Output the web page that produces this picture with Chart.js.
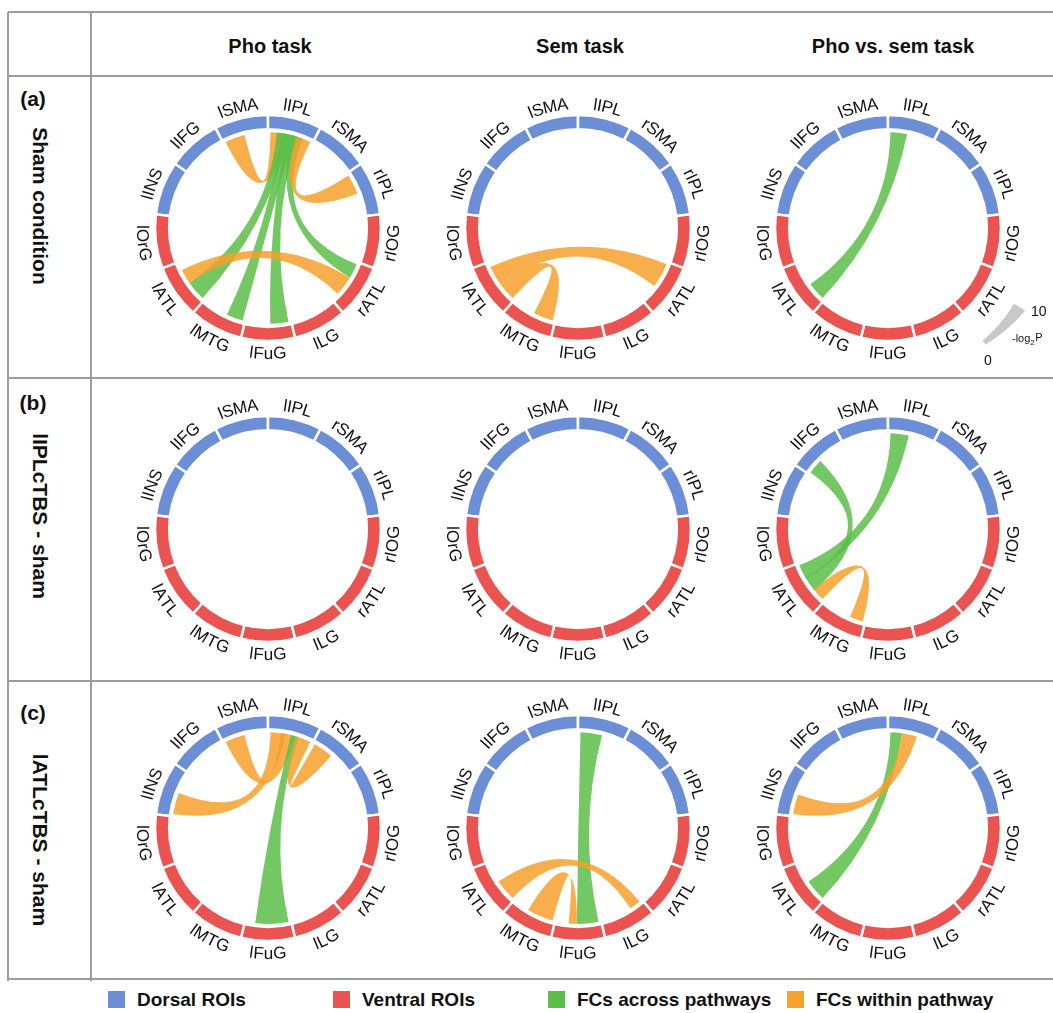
<!DOCTYPE html>
<html>
<head>
<meta charset="utf-8">
<script src="https://cdn.jsdelivr.net/npm/chart.js@4.4.1/dist/chart.umd.min.js"></script>
<style>
  body { margin: 0; background: #fff; }
  #page { position: relative; width: 1053px; height: 1013px; overflow: hidden;
          font-family: "Liberation Sans", Arial, sans-serif; color: #111; }
  .hl { position: absolute; left: 8px; width: 1045px; height: 2px; background: #9c9c9c; }
  .vl { position: absolute; top: 12px; width: 2px; height: 969px; background: #9c9c9c; }
  .head { position: absolute; top: 35px; font-weight: bold; font-size: 20px;
          transform: translateX(-50%); white-space: nowrap; }
  .tag { position: absolute; left: 33px; font-weight: bold; font-size: 21px;
         transform: translateX(-50%); }
  .rowlab { position: absolute; left: 40px; font-weight: bold; font-size: 21px; white-space: nowrap;
            transform: translate(-50%, -50%) rotate(90deg); }
  canvas { position: absolute; }
  .leg { position: absolute; top: 989px; font-weight: bold; font-size: 19px; white-space: nowrap; }
  .leg i { display: inline-block; width: 17px; height: 17px; vertical-align: -2px; margin-right: 12px; }
</style>
</head>
<body>
<div id="page"></div>
<script>
// ROIs going clockwise round each ring
const rois = ['lINS', 'lIFG', 'lSMA', 'lIPL', 'rSMA', 'rIPL', 'rIOG', 'rATL', 'lLG', 'lFuG', 'lMTG', 'lATL', 'lOrG'];
const dorsalRois = ['lINS', 'lIFG', 'lSMA', 'lIPL', 'rSMA', 'rIPL'];
const roiSize = rois.map(() => 1);

const conditions = ['Sham condition', 'lIPLcTBS - sham', 'lATLcTBS - sham'];
const conditionTags = ['(a)', '(b)', '(c)'];
const tasks = ['Pho task', 'Sem task', 'Pho vs. sem task'];
const legendItems = ['Dorsal ROIs', 'Ventral ROIs', 'FCs across pathways', 'FCs within pathway'];
const sizeKeyTicks = [0, 10];

// links: [roi A, roi B, -logP at A end, -logP at B end]
const shamPho = [
  ['lSMA', 'lIPL', 12, 9],
  ['lIPL', 'lATL', 7, 12],
  ['lIPL', 'lMTG', 7, 10],
  ['lIPL', 'lFuG', 7, 11],
  ['lIPL', 'rATL', 7, 9],
  ['lIPL', 'rIPL', 9, 12],
  ['lATL', 'rATL', 9, 12]
];
const shamSem = [
  ['lATL', 'lMTG', 11, 12],
  ['lATL', 'rATL', 12, 15]
];
const shamDiff = [
  ['lIPL', 'lATL', 10, 11]
];
const iplPho = [];
const iplSem = [];
const iplDiff = [
  ['lMTG', 'lATL', 8, 8],
  ['lIFG', 'lATL', 9, 9],
  ['lIPL', 'lATL', 11, 9]
];
const atlPho = [
  ['lINS', 'lIPL', 13, 9],
  ['lSMA', 'lIPL', 12, 9],
  ['lIPL', 'lFuG', 5, 20],
  ['lIPL', 'rSMA', 9, 12]
];
const atlSem = [
  ['lIPL', 'lFuG', 13, 13],
  ['lATL', 'lLG', 13, 7],
  ['lMTG', 'lFuG', 16, 5]
];
const atlDiff = [
  ['lIPL', 'lATL', 7, 13],
  ['lINS', 'lIPL', 12, 9]
];
const panels = [
  [shamPho, shamSem, shamDiff],
  [iplPho, iplSem, iplDiff],
  [atlPho, atlSem, atlDiff]
];

const BLUE = '#6c8ed6';
const RED = '#ea5350';
const GREEN = 'rgba(92, 190, 72, 0.85)';
const ORANGE = 'rgba(246, 160, 44, 0.85)';
const DEG = Math.PI / 180;
const UNIT = 1 * DEG;              // ribbon width per -logP unit
const colX = [268, 578, 888];
const rowY = [228, 529, 828];

const page = document.getElementById('page');
function add(cls, text, style) {
  const d = document.createElement('div');
  d.className = cls;
  if (text) d.textContent = text;
  Object.assign(d.style, style);
  page.appendChild(d);
  return d;
}

// table frame
[12, 76, 378, 681, 979].forEach(y => add('hl', '', { top: (y - 1) + 'px' }));
[8, 91].forEach(x => add('vl', '', { left: (x - 1) + 'px' }));
tasks.forEach((t, i) => add('head', t, { left: [270, 580, 893][i] + 'px' }));
conditionTags.forEach((t, i) => add('tag', t, { top: [87, 391, 701][i] + 'px' }));
conditions.forEach((t, i) => add('rowlab', t, { top: [206, 516, 840][i] + 'px' }));

// legend
const legColors = [BLUE, RED, '#5cbf48', '#f6a22f'];
legendItems.forEach((t, i) => {
  const d = add('leg', '', { left: [108, 333, 548, 787][i] + 'px' });
  const sw = document.createElement('i');
  sw.style.background = legColors[i];
  d.appendChild(sw);
  d.appendChild(document.createTextNode(t));
});

const isDorsal = r => dorsalRois.includes(r);

const chordPlugin = {
  id: 'chords',
  afterDatasetsDraw(chart, args, opts) {
    const links = opts.links || [];
    const arcs = chart.getDatasetMeta(0).data;
    if (!links.length || !arcs.length) return;
    const ctx = chart.ctx;
    const cx = arcs[0].x, cy = arcs[0].y;
    const r = arcs[0].innerRadius - 3;
    const pad = 1.5 * DEG;
    // collect link ends per ROI, in link order
    const ends = rois.map(() => []);
    links.forEach((l, k) => {
      ends[rois.indexOf(l[0])].push({ k, side: 0, w: l[2] * UNIT });
      ends[rois.indexOf(l[1])].push({ k, side: 1, w: l[3] * UNIT });
    });
    const pos = links.map(() => [null, null]);
    ends.forEach((list, i) => {
      if (!list.length) return;
      const a0 = arcs[i].startAngle + pad;
      const usable = arcs[i].endAngle - pad - a0;
      const total = list.reduce((s, e) => s + e.w, 0);
      const last = list[list.length - 1].w;
      const f = total <= usable ? 1 : (usable - last) / (total - last);
      let c = 0;
      list.forEach(e => {
        const s = a0 + c * f;
        pos[e.k][e.side] = [s, s + e.w];
        c += e.w;
      });
    });
    ctx.save();
    links.forEach((l, k) => {
      const [s0, s1] = pos[k][0];
      const [t0, t1] = pos[k][1];
      ctx.fillStyle = isDorsal(l[0]) !== isDorsal(l[1]) ? GREEN : ORANGE;
      ctx.beginPath();
      ctx.arc(cx, cy, r, s0, s1);
      ctx.quadraticCurveTo(cx, cy, cx + r * Math.cos(t0), cy + r * Math.sin(t0));
      ctx.arc(cx, cy, r, t0, t1);
      ctx.quadraticCurveTo(cx, cy, cx + r * Math.cos(s0), cy + r * Math.sin(s0));
      ctx.closePath();
      ctx.fill();
    });
    ctx.restore();
  }
};

// ROI names bent along the ring
const labelPlugin = {
  id: 'roiLabels',
  afterDatasetsDraw(chart) {
    const arcs = chart.getDatasetMeta(0).data;
    const ctx = chart.ctx;
    ctx.save();
    ctx.font = '17px "Liberation Sans", Arial, sans-serif';
    ctx.fillStyle = '#111';
    ctx.textAlign = 'center';
    ctx.textBaseline = 'alphabetic';
    arcs.forEach((arc, i) => {
      const name = chart.data.labels[i];
      const mid = (arc.startAngle + arc.endAngle) / 2;
      const top = Math.sin(mid) < 0;
      const cap = 12;
      const rb = top ? arc.outerRadius + 6 : arc.outerRadius + 6 + cap;
      const rm = top ? rb + cap / 2 : rb - cap / 2;
      const widths = [...name].map(ch => ctx.measureText(ch).width);
      const total = widths.reduce((a, b) => a + b, 0) / rm;
      let a = top ? mid - total / 2 : mid + total / 2;
      [...name].forEach((ch, j) => {
        const da = widths[j] / rm;
        const phi = top ? a + da / 2 : a - da / 2;
        ctx.save();
        ctx.translate(arc.x + rb * Math.cos(phi), arc.y + rb * Math.sin(phi));
        ctx.rotate(top ? phi + Math.PI / 2 : phi - Math.PI / 2);
        ctx.fillText(ch, 0, 0);
        ctx.restore();
        a = top ? a + da : a - da;
      });
    });
    ctx.restore();
  }
};

// grey key for ribbon width
const sizeKeyPlugin = {
  id: 'sizeKey',
  afterDatasetsDraw(chart, args, opts) {
    if (!opts.show) return;
    const arc = chart.getDatasetMeta(0).data[0];
    const ctx = chart.ctx;
    const cx = arc.x, cy = arc.y;
    const rIn = 147;
    const aLow = 50 * DEG, aHigh = 31 * DEG;   // canvas angles: 0 value end, 10 value end
    const wLow = 5, wHigh = 13;
    ctx.save();
    ctx.fillStyle = '#c8c8c8';
    ctx.beginPath();
    const n = 20;
    for (let j = 0; j <= n; j++) {
      const a = aLow + (aHigh - aLow) * j / n;
      const x = cx + rIn * Math.cos(a), y = cy + rIn * Math.sin(a);
      j ? ctx.lineTo(x, y) : ctx.moveTo(x, y);
    }
    for (let j = n; j >= 0; j--) {
      const a = aLow + (aHigh - aLow) * j / n;
      const rr = rIn + wLow + (wHigh - wLow) * j / n;
      ctx.lineTo(cx + rr * Math.cos(a), cy + rr * Math.sin(a));
    }
    ctx.closePath();
    ctx.fill();
    ctx.fillStyle = '#111';
    ctx.font = '14px "Liberation Sans", Arial, sans-serif';
    ctx.textAlign = 'left';
    ctx.textBaseline = 'middle';
    ctx.fillText(String(sizeKeyTicks[1]), cx + 143, cy + 84);
    ctx.fillText(String(sizeKeyTicks[0]), cx + 96, cy + 133);
    ctx.font = '11px "Liberation Sans", Arial, sans-serif';
    ctx.fillText('-log', cx + 124, cy + 111);
    const w = ctx.measureText('-log').width;
    ctx.font = '8px "Liberation Sans", Arial, sans-serif';
    ctx.fillText('2', cx + 124 + w, cy + 115);
    ctx.font = '11px "Liberation Sans", Arial, sans-serif';
    ctx.fillText('P', cx + 129 + w, cy + 110);
    ctx.restore();
  }
};

panels.forEach((row, ri) => {
  row.forEach((links, ci) => {
    const cv = document.createElement('canvas');
    cv.width = 330;
    cv.height = 300;
    cv.style.left = (colX[ci] - 165) + 'px';
    cv.style.top = (rowY[ri] - 150) + 'px';
    page.appendChild(cv);
    new Chart(cv.getContext('2d'), {
      type: 'doughnut',
      data: {
        labels: rois,
        datasets: [{
          data: roiSize,
          backgroundColor: rois.map(r => isDorsal(r) ? BLUE : RED),
          borderColor: '#fff',
          borderWidth: 2.5,
          radius: 113,
          cutout: '87.5%'
        }]
      },
      options: {
        responsive: false,
        animation: false,
        events: [],
        rotation: -180 * dorsalRois.length / rois.length,
        plugins: {
          legend: { display: false },
          tooltip: { enabled: false },
          chords: { links },
          sizeKey: { show: ri === 0 && ci === 2 }
        }
      },
      plugins: [chordPlugin, labelPlugin, sizeKeyPlugin]
    });
  });
});
</script>
</body>
</html>
